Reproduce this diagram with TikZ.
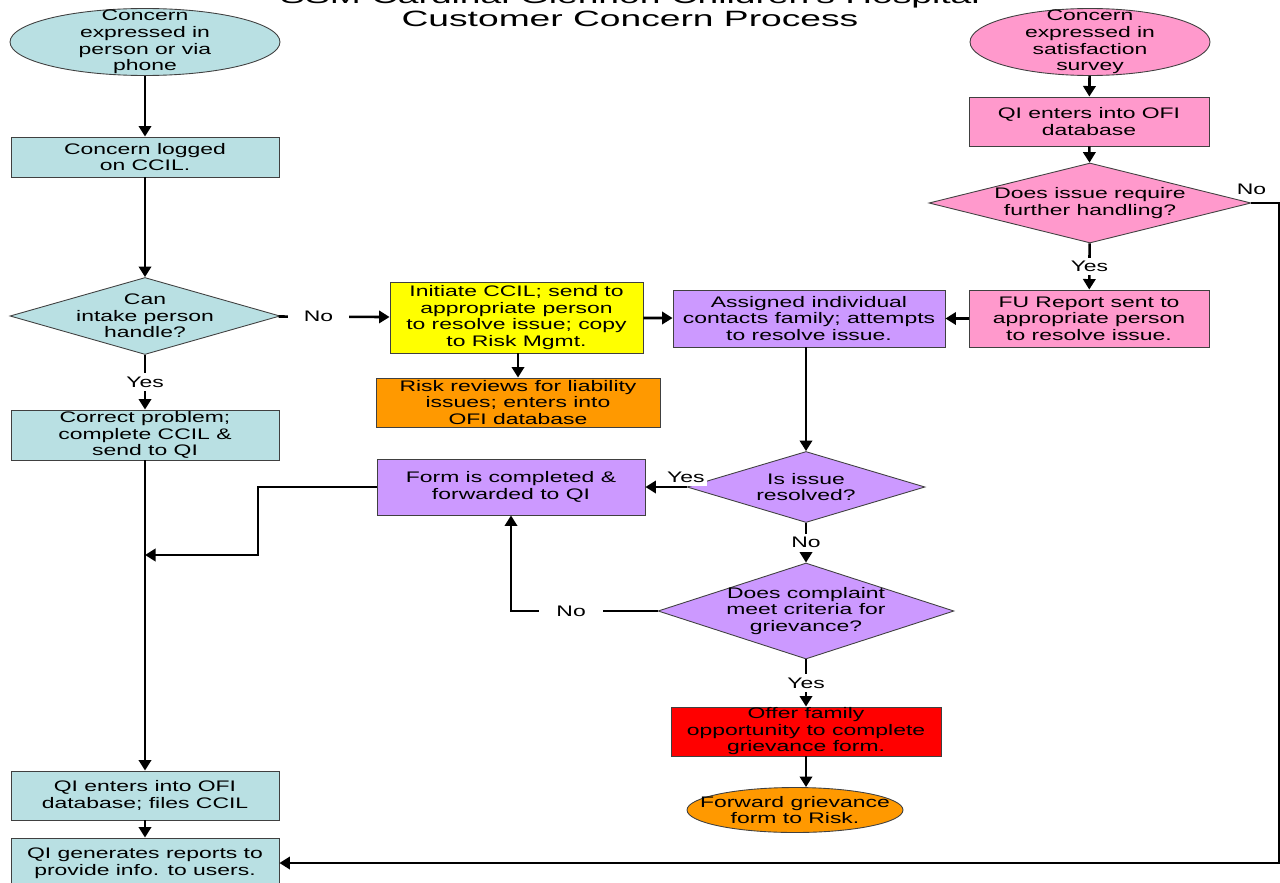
\documentclass[tikz,border=0pt]{standalone}
\usepackage{fontspec}
\setmainfont{Liberation Sans}[FakeStretch=1.5]
\newfontfamily\titlefont{Liberation Sans}[FakeStretch=1.68]
\usepackage{xcolor}
\usetikzlibrary{positioning,shapes.geometric,arrows.meta}

\definecolor{ccblue}{RGB}{185,224,227}
\definecolor{ccpink}{RGB}{255,153,204}
\definecolor{ccyellow}{RGB}{255,255,0}
\definecolor{ccorange}{RGB}{255,153,0}
\definecolor{ccpurple}{RGB}{204,153,255}
\definecolor{ccred}{RGB}{255,0,0}

\begin{document}
\begin{tikzpicture}[
    x=0.02cm, y=-0.02cm,
    font=\fontsize{8.7}{9.4}\selectfont,
    box/.style={rectangle, draw=gray!50!black, line width=0.5pt, align=center, inner sep=0pt},
    oval/.style={ellipse, draw=gray!50!black, line width=0.5pt, inner sep=0pt},
    decision/.style={diamond, draw=gray!50!black, line width=0.5pt, inner sep=0pt},
    txt/.style={align=center, inner sep=0pt},
    arrow/.style={line width=1.5pt, -{Triangle[length=6pt,width=7pt]}},
    lbl/.style={fill=white, inner sep=2pt}
]
\useasboundingbox (0,0) rectangle (1280,882);
\fill[white] (0,0) rectangle (1280,882);

% Title
\node [font=\titlefont\fontsize{12.6}{12.6}\selectfont, anchor=base] (title1) at (630,4) {SSM Cardinal Glennon Children's Hospital};
\node [font=\titlefont\fontsize{12.6}{12.6}\selectfont, anchor=base] (title2) at (630,27) {Customer Concern Process};

% Left column: concern in person
\node [oval, fill=ccblue, minimum width=5.4cm, minimum height=1.34cm,
       label={[txt]center:Concern\\expressed in\\person or via\\phone}] (inperson) at (145,42) {};
\node [box, fill=ccblue, minimum width=5.36cm, minimum height=0.8cm] (logged) at (145,157) {Concern logged\\on CCIL.};
\node [decision, fill=ccblue, minimum width=5.4cm, minimum height=1.54cm,
       label={[txt]center:Can\\intake person\\handle?}] (canhandle) at (145,316) {};
\node [box, fill=ccblue, minimum width=5.36cm, minimum height=1.0cm] (correct) at (145,435) {Correct problem;\\complete CCIL \&\\send to QI};
\node [box, fill=ccblue, minimum width=5.36cm, minimum height=0.98cm] (qienters) at (145,795.5) {QI enters into OFI\\database; files CCIL};
\node [box, fill=ccblue, minimum width=5.36cm, minimum height=1.0cm] (qireports) at (145,863) {QI generates reports to\\provide info. to users.};
\coordinate (join) at (145,555);

% Middle: CCIL and risk
\node [box, fill=ccyellow, minimum width=5.06cm, minimum height=1.42cm] (initiate) at (516.5,317.5) {Initiate CCIL; send to\\appropriate person\\to resolve issue; copy\\to Risk Mgmt.};
\node [box, fill=ccorange, minimum width=5.68cm, minimum height=0.98cm] (riskreview) at (518,402.5) {Risk reviews for liability\\issues; enters into\\OFI database};
\node [box, fill=ccpurple, minimum width=5.44cm, minimum height=1.14cm] (assigned) at (809,318.5) {Assigned individual\\contacts family; attempts\\to resolve issue.};
\node [box, fill=ccpurple, minimum width=5.36cm, minimum height=1.12cm] (formdone) at (511,487) {Form is completed \&\\forwarded to QI};
\node [decision, fill=ccpurple, minimum width=4.76cm, minimum height=1.42cm,
       label={[txt]center:Is issue\\resolved?}] (resolved) at (806,487) {};
\node [decision, fill=ccpurple, minimum width=5.92cm, minimum height=1.92cm,
       label={[txt]center:Does complaint\\meet criteria for\\grievance?}] (criteria) at (806,611) {};
\node [box, fill=ccred, minimum width=5.4cm, minimum height=0.98cm] (offer) at (806,731.5) {Offer family\\opportunity to complete\\grievance form.};
\node [oval, fill=ccorange, minimum width=4.32cm, minimum height=0.9cm,
       label={[txt]center:Forward grievance\\form to Risk.}] (forward) at (795,810) {};

% Right column: satisfaction survey
\node [oval, fill=ccpink, minimum width=4.8cm, minimum height=1.34cm,
       label={[txt]center:Concern\\expressed in\\satisfaction\\survey}] (survey) at (1090,42) {};
\node [box, fill=ccpink, minimum width=4.8cm, minimum height=0.98cm] (qiofi) at (1089,121.5) {QI enters into OFI\\database};
\node [decision, fill=ccpink, minimum width=6.44cm, minimum height=1.6cm,
       label={[txt]center:Does issue require\\further handling?}] (further) at (1090,203) {};
\node [box, fill=ccpink, minimum width=4.8cm, minimum height=1.14cm] (fureport) at (1089,318.5) {FU Report sent to\\appropriate person\\ to resolve issue.};

% Connectors
\draw [arrow] (inperson) -- (logged);
\draw [arrow] (logged) -- (canhandle);
\draw [arrow] (canhandle) -- (correct) node[lbl, midway] {Yes};
\draw [arrow] (canhandle) -- (initiate) node[lbl, pos=0.36, inner xsep=9pt] {No};
\draw [arrow] (initiate.south -| riskreview.north) -- (riskreview.north);
\draw [arrow] (initiate) -- (assigned);
\draw [arrow] (fureport) -- (assigned);
\draw [arrow] (survey) -- (qiofi);
\draw [arrow] (qiofi) -- (further);
\draw [arrow] (further) -- (fureport) node[lbl, midway] {Yes};
\draw [arrow] (further.east) -- ++(28,0) |- (qireports.east);
\node [above=1pt] (furtherno) at (further.east) {No};
\draw [arrow] (assigned.south -| resolved.north) -- (resolved.north);
\draw [arrow] (resolved) -- (formdone) node[lbl, pos=0.02, above, inner sep=1.5pt] {Yes};
\draw [arrow] (resolved) -- (criteria) node[lbl, midway] {No};
\draw [arrow] (criteria.west) -| (formdone.south) node[lbl, pos=0.295, inner xsep=10pt] {No};
\draw [arrow] (criteria) -- (offer) node[lbl, midway] {Yes};
\draw [arrow] (offer.south) -- (offer.south |- forward.north);
\draw [arrow] (correct) -- (qienters);
\draw [arrow] (formdone.west) -- (258,487) |- (join);
\draw [arrow] (qienters) -- (qireports);

\end{tikzpicture}
\end{document}
